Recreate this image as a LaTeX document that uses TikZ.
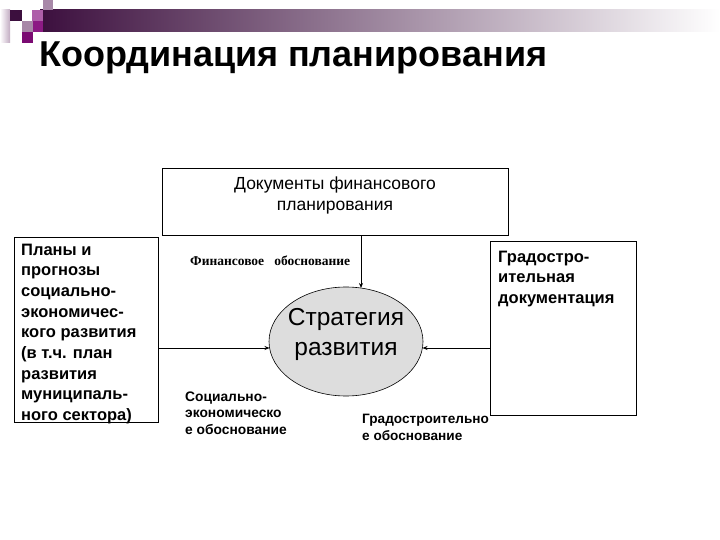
\documentclass[tikz,border=0pt]{standalone}
\usepackage{fontspec}
\setmainfont{Liberation Sans}
\newfontfamily\serifbf{Liberation Serif}
\usetikzlibrary{arrows.meta,shapes.geometric}
\definecolor{dpurp}{HTML}{3C0F3E}
\definecolor{mpurp}{HTML}{8C1A84}
\definecolor{lpurp}{HTML}{A888A8}
\definecolor{vpurp}{HTML}{7A0A72}
\definecolor{ellfill}{HTML}{DDDDDD}
\begin{document}
\begin{tikzpicture}[x=1pt,y=-1pt,
  boxst/.style={draw, line width=0.8pt, minimum width=#1, anchor=north west, inner sep=0pt},
  arr/.style={line width=0.9pt, -{Stealth[length=5pt,width=4pt]}},
  txt/.style={inner sep=0pt, align=left, anchor=north west},
]
\useasboundingbox (0,0) rectangle (720,540);
% decoration
\shade[left color=white, right color=lpurp!70] (0,10) rectangle (10,43);
\shade[left color=dpurp, right color=white] (40,10) rectangle (720,32);
\fill[dpurp] (10,10) rectangle (22,21);
\fill[mpurp!70] (32,10) rectangle (43,21);
\fill[lpurp] (43,0) rectangle (53,10);
\fill[lpurp] (22,21) rectangle (33,32);
\fill[mpurp] (33,21) rectangle (43,32);
\fill[vpurp] (22,32) rectangle (33,43);
% title
\node[anchor=west, inner sep=0pt, font=\bfseries\fontsize{36}{40}\selectfont] (title) at (39,58) {Координация планирования};
% boxes
\node[boxst=346pt, minimum height=67pt] (docs) at (162,168) {};
\node[inner sep=0pt, align=center, font=\fontsize{17.5}{21}\selectfont] (docslbl) at (335,195) {Документы финансового\\планирования};
\node[boxst=144pt, minimum height=185pt] (plans) at (14,237) {};
\node[txt, font=\bfseries\fontsize{16.5}{20.7}\selectfont] (planslbl) at (21,243.5) {Планы и\\прогнозы\\социально-\\экономичес-\\кого развития\\(в т.ч. план\\развития\\муниципаль-\\ного сектора)};
\node[boxst=146pt, minimum height=174pt] (grad) at (490,241) {};
\node[txt, font=\bfseries\fontsize{16.5}{20.5}\selectfont] (gradlbl) at (498,250.5) {Градостро-\\ительная\\документация};
% ellipse
\node[ellipse, draw, line width=0.6pt, fill=ellfill, minimum width=154pt, minimum height=109pt, inner sep=0pt] (strat) at (346,341.5) {};
\node[inner sep=0pt, align=center, font=\fontsize{24.5}{30}\selectfont] (stratlbl) at (346,334.5) {Стратегия\\развития};
% connectors
\coordinate (vtop) at (361,235);
\coordinate (vbot) at (361,288);
\coordinate (lstart) at (158,348);
\coordinate (lend) at (269.5,348);
\coordinate (rstart) at (490,348);
\coordinate (rend) at (422.5,348);
\draw[arr] (vtop) -- (vbot);
\draw[arr] (lstart) -- (lend);
\draw[arr] (rstart) -- (rend);
% labels
\node[anchor=west, inner sep=0pt, font=\serifbf\bfseries\fontsize{13.5}{15}\selectfont] (finlbl) at (190,261) {Финансовое\ \ \ обоснование};
\node[txt, font=\bfseries\fontsize{13.8}{16.5}\selectfont] (soclbl) at (185,391.5) {Социально-\\экономическо\\е обоснование};
\node[txt, font=\bfseries\fontsize{13.6}{17}\selectfont] (gradob) at (362,414) {Градостроительно\\е обоснование};
\end{tikzpicture}
\end{document}
